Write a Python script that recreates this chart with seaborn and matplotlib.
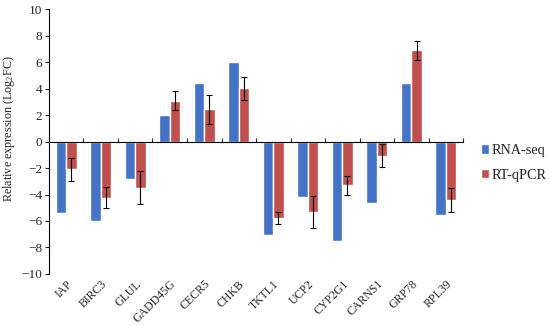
import numpy as np
import pandas as pd
import matplotlib
matplotlib.use("Agg")
import matplotlib.pyplot as plt
import seaborn as sns

# %%
genes = ["IAP", "BIRC3", "GLUL", "GADD45G", "CECR5", "CHKB", "TKTL1",
         "UCP2", "CYP2G1", "CARNS1", "GRP78", "RPL39"]
rna_seq = [-5.4, -6.0, -2.8, 2.0, 4.45, 6.0, -7.05, -4.2, -7.5, -4.65, 4.45, -5.55]
rt_qpcr = [-2.1, -4.25, -3.5, 3.1, 2.45, 4.05, -5.75, -5.3, -3.3, -1.05, 6.9, -4.4]
rt_err = [0.85, 0.8, 1.25, 0.72, 1.1, 0.87, 0.45, 1.2, 0.7, 0.9, 0.75, 0.9]
series = ["RNA-seq", "RT-qPCR"]
colors = ["#4472C4", "#C0504D"]
y_ticks = list(range(-10, 11, 2))

# %%
sns.set_style("white")
plt.rcParams["font.family"] = ["Liberation Serif", "DejaVu Serif"]
plt.rcParams["mathtext.default"] = "regular"

df = pd.DataFrame({
    "gene": genes * 2,
    "series": [series[0]] * len(genes) + [series[1]] * len(genes),
    "value": rna_seq + rt_qpcr,
})

fig = plt.figure(figsize=(5.5, 3.26), dpi=100)
ax = fig.add_axes([0.089, 0.16, 0.753, 0.811])

sns.barplot(data=df, x="gene", y="value", hue="series", palette=colors,
            width=0.6, errorbar=None, ax=ax, saturation=1)

# error bars on RT-qPCR bars
bars = ax.containers[1]
xs = [b.get_x() + b.get_width() / 2 for b in bars]
ax.errorbar(xs, rt_qpcr, yerr=rt_err, fmt="none", ecolor="black",
            elinewidth=0.8, capsize=2.5, capthick=0.8)

ax.set_ylim(-10, 10)
ax.set_xlim(-0.5, len(genes) - 0.5)
ax.set_yticks(y_ticks)
ax.tick_params(axis="y", direction="out", length=3, width=0.8, labelsize=9.5,
               left=True, pad=2)
ax.set_ylabel("Relative expression (Log$_2$FC)", fontsize=8.7)
ax.yaxis.set_label_coords(-0.078, 0.548)
ax.set_xlabel("")

for s in ["top", "right"]:
    ax.spines[s].set_visible(False)
ax.spines["left"].set_color("black")
ax.spines["left"].set_linewidth(0.8)
ax.spines["bottom"].set_position(("data", 0))
ax.spines["bottom"].set_color("black")
ax.spines["bottom"].set_linewidth(0.8)

# boundary ticks on the zero line, labels at the bottom
ax.set_xticks(np.arange(len(genes) + 1) - 0.5)
ax.set_xticklabels([])
ax.tick_params(axis="x", direction="in", length=3, width=0.8, bottom=True)

sec = ax.secondary_xaxis("bottom")
sec.set_xticks(range(len(genes)))
sec.set_xticklabels(genes, rotation=45, ha="right", rotation_mode="anchor",
                    fontsize=8.5)
sec.tick_params(length=0, pad=3)
sec.spines["bottom"].set_visible(False)

ax.legend(loc="center left", bbox_to_anchor=(1.025, 0.42), frameon=False,
          fontsize=10.3, handlelength=0.6, handleheight=0.6, handletextpad=0.2,
          labelspacing=0.8, borderaxespad=0.3, borderpad=0.2)

fig.savefig("out.png", dpi=100)
